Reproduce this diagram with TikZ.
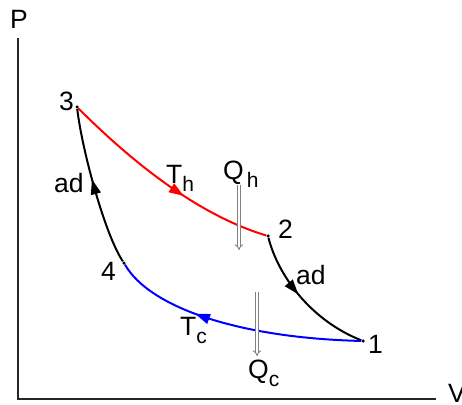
\documentclass[tikz,border=0pt]{standalone}
\usepackage{fontspec}
\setmainfont{Liberation Sans}
\usetikzlibrary{arrows.meta,decorations.markings}
\definecolor{HotRed}{RGB}{255,0,0}
\definecolor{ColdBlue}{RGB}{0,0,255}
\definecolor{FlowGray}{RGB}{128,128,128}
\newcommand{\lowsub}[1]{\raisebox{-8pt}{\fontsize{21}{21}\selectfont #1}}

\begin{document}
\begin{tikzpicture}[x=1pt, y=-1pt,
  every node/.style={font=\fontsize{26.5}{26.5}\selectfont, inner sep=0pt, anchor=base west},
  axis/.style={line width=2.5pt, black!85},
  branch/.style={line width=2pt},
  midarrow/.style={postaction={decorate, decoration={markings, mark=at position #1 with {\arrow{Triangle[length=15pt,width=10pt]}}}}},
  heatflow/.style={draw=FlowGray, double=white, line width=0.9pt, double distance=2pt, -{Implies[length=6pt]}},
  statedot/.style={circle, fill=black, minimum size=3.5pt, inner sep=0pt, anchor=center}]
  \useasboundingbox (0,0) rectangle (462,404);

  \coordinate (origin) at (18,399);
  \coordinate (ptop) at (18,38);
  \coordinate (vend) at (436,399);
  \draw[axis] (ptop) -- (origin) -- (vend);
  \node (plabel) at (10,29) {P};
  \node (vlabel) at (448,402) {V};

  \node[statedot] (s1) at (363,341) {};
  \node[statedot] (s2) at (268,236) {};
  \node[statedot] (s3) at (77,107) {};
  \node[statedot] (s4) at (124,263) {};

  \draw[branch, HotRed, midarrow=0.6] (s3) .. controls (132,162) and (198,215) .. (s2);
  \draw[branch, midarrow=0.45] (s2) .. controls (278,275) and (310,320) .. (s1);
  \draw[branch, ColdBlue, midarrow=0.66] (s1) .. controls (240,338) and (150,308) .. (s4);
  \draw[branch, midarrow=0.55] (s4) .. controls (105,235) and (82,150) .. (s3);

  \node (n1) at (368,353) {1};
  \node (n2) at (278,238) {2};
  \node (n3) at (59,110) {3};
  \node (n4) at (101,280) {4};
  \node (adleft) at (54,192) {ad};
  \node (adright) at (296,284) {ad};
  \node (thot) at (166,183) {T\lowsub{h}};
  \node (tcold) at (180,335) {T\lowsub{c}};
  \node (qhot) at (223,179) {Q\hspace{3pt}\lowsub{h}};
  \node (qcold) at (248,378) {Q\lowsub{c}};

  \coordinate (qhstart) at (239,185);
  \coordinate (qhend) at (239,250);
  \coordinate (qcstart) at (257,292);
  \coordinate (qcend) at (257,356);
  \draw[heatflow] (qhstart) -- (qhend);
  \draw[heatflow] (qcstart) -- (qcend);
\end{tikzpicture}
\end{document}
